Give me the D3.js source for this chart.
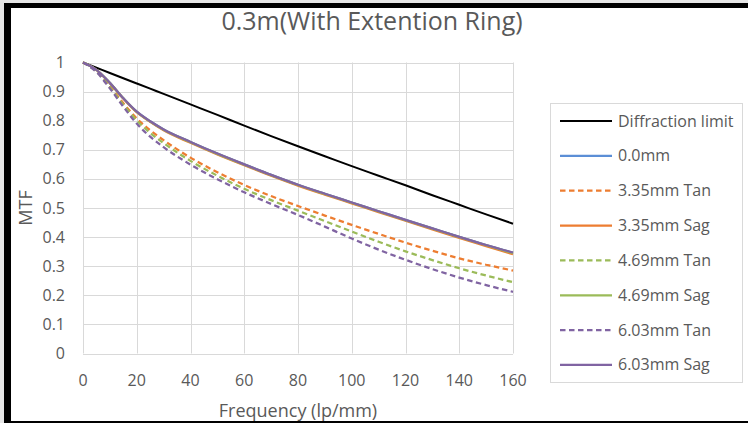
<!DOCTYPE html>
<html>
<head>
<meta charset="utf-8">
<script src="https://cdn.jsdelivr.net/npm/d3@7"></script>
<style>
  html, body { margin: 0; padding: 0; background: #e6e6e6; }
  svg { display: block; }
  text { font-family: "Open Sans", sans-serif; fill: #595959; }
</style>
</head>
<body>
<svg id="chart" width="748" height="423"></svg>
<script>
// frequencies (lp/mm) where the curves were sampled
var freqs = [0, 5, 10, 15, 20, 25, 30, 40, 50, 60, 70, 80, 90, 100, 110, 120, 130, 140, 150, 160];

var diffraction = [1, 0.982, 0.964, 0.946, 0.928, 0.91, 0.892, 0.856, 0.82, 0.783, 0.747, 0.712, 0.678, 0.644, 0.611, 0.578, 0.544, 0.511, 0.478, 0.446];
var sag0    = [1, 0.975, 0.93, 0.877, 0.831, 0.798, 0.77, 0.727, 0.687, 0.65, 0.614, 0.58, 0.549, 0.519, 0.489, 0.459, 0.43, 0.401, 0.373, 0.346];
var tan335  = [1, 0.97, 0.918, 0.86, 0.808, 0.767, 0.733, 0.673, 0.623, 0.579, 0.541, 0.507, 0.474, 0.442, 0.411, 0.381, 0.353, 0.327, 0.305, 0.285];
var sag335  = [1, 0.975, 0.929, 0.876, 0.829, 0.796, 0.767, 0.724, 0.684, 0.647, 0.611, 0.577, 0.546, 0.516, 0.486, 0.456, 0.426, 0.397, 0.369, 0.341];
var tan469  = [1, 0.969, 0.915, 0.855, 0.801, 0.758, 0.723, 0.662, 0.611, 0.566, 0.527, 0.491, 0.455, 0.419, 0.384, 0.351, 0.321, 0.293, 0.268, 0.245];
var sag469  = [1, 0.975, 0.93, 0.877, 0.83, 0.797, 0.769, 0.726, 0.686, 0.649, 0.613, 0.579, 0.548, 0.518, 0.488, 0.458, 0.429, 0.4, 0.372, 0.345];
var tan603  = [1, 0.967, 0.911, 0.848, 0.79, 0.745, 0.709, 0.649, 0.599, 0.554, 0.514, 0.476, 0.436, 0.395, 0.357, 0.322, 0.29, 0.261, 0.235, 0.212];
var sag603  = [1, 0.975, 0.93, 0.877, 0.831, 0.798, 0.77, 0.727, 0.687, 0.65, 0.614, 0.58, 0.549, 0.519, 0.489, 0.459, 0.43, 0.401, 0.373, 0.347];

var seriesNames = ["Diffraction limit", "0.0mm", "3.35mm Tan", "3.35mm Sag", "4.69mm Tan", "4.69mm Sag", "6.03mm Tan", "6.03mm Sag"];
var seriesValues = [diffraction, sag0, tan335, sag335, tan469, sag469, tan603, sag603];
var seriesColors = ["#000000", "#5b8ed6", "#ed7d31", "#ed7d31", "#9bbb59", "#9bbb59", "#8064a2", "#8064a2"];
var seriesDashed = [false, false, true, false, true, false, true, false];

var xTicks = [0, 20, 40, 60, 80, 100, 120, 140, 160];
var yTicks = [0, 0.1, 0.2, 0.3, 0.4, 0.5, 0.6, 0.7, 0.8, 0.9, 1];

var svg = d3.select("#chart");

// white sheet with the black frame on left / top / bottom
svg.append("rect").attr("x", 4).attr("y", 3).attr("width", 744).attr("height", 420).attr("fill", "#000");
svg.append("rect").attr("x", 11).attr("y", 8).attr("width", 737).attr("height", 413).attr("fill", "#fff");

var x = d3.scaleLinear().domain([0, 160]).range([83, 513]);
var y = d3.scaleLinear().domain([0, 1]).range([353.5, 62.5]);

// gridlines
svg.append("g")
  .selectAll("line.h")
  .data(yTicks)
  .enter().append("line")
  .attr("x1", x(0)).attr("x2", x(160))
  .attr("y1", d => Math.round(y(d)) + 0.5).attr("y2", d => Math.round(y(d)) + 0.5)
  .attr("stroke", "#d9d9d9").attr("stroke-width", 1);
svg.append("g")
  .selectAll("line.v")
  .data(xTicks)
  .enter().append("line")
  .attr("x1", d => Math.round(x(d)) + 0.5).attr("x2", d => Math.round(x(d)) + 0.5)
  .attr("y1", y(1)).attr("y2", y(0))
  .attr("stroke", "#d9d9d9").attr("stroke-width", 1);

// tick labels
svg.append("g")
  .selectAll("text")
  .data(yTicks)
  .enter().append("text")
  .attr("x", 65).attr("y", d => y(d) + 5.5)
  .attr("text-anchor", "end")
  .style("font-size", "16px")
  .text(d => d3.format("")(+d.toFixed(1)));
svg.append("g")
  .selectAll("text")
  .data(xTicks)
  .enter().append("text")
  .attr("x", d => x(d)).attr("y", 386)
  .attr("text-anchor", "middle")
  .style("font-size", "16px")
  .text(d => d);

// axis titles
svg.append("text")
  .attr("transform", "translate(32," + (y(0.5)) + ") rotate(-90)")
  .attr("text-anchor", "middle")
  .style("font-size", "18px")
  .text("MTF");
svg.append("text")
  .attr("x", 298).attr("y", 417)
  .attr("text-anchor", "middle")
  .style("font-size", "18px")
  .text("Frequency (lp/mm)");

// chart title
svg.append("text")
  .attr("x", 372).attr("y", 30)
  .attr("text-anchor", "middle")
  .style("font-size", "25px")
  .text("0.3m(With Extention Ring)");

// curves
var line = d3.line()
  .x((d, i) => x(freqs[i]))
  .y(d => y(d))
  .curve(d3.curveMonotoneX);

svg.append("g")
  .selectAll("path")
  .data(seriesValues)
  .enter().append("path")
  .attr("d", line)
  .attr("fill", "none")
  .attr("stroke", (d, i) => seriesColors[i])
  .attr("stroke-width", (d, i) => i === 0 ? 2 : 2.25)
  .attr("stroke-dasharray", (d, i) => seriesDashed[i] ? "5.5,3.5" : null);

// legend
var legend = svg.append("g");
legend.append("rect")
  .attr("x", 550.5).attr("y", 103.5).attr("width", 192).attr("height", 279)
  .attr("fill", "#fff").attr("stroke", "#d9d9d9");
var rows = legend.selectAll("g")
  .data(seriesNames)
  .enter().append("g")
  .attr("transform", (d, i) => "translate(0," + (121 + i * 34.85) + ")");
rows.append("line")
  .attr("x1", 560).attr("x2", 612)
  .attr("stroke", (d, i) => seriesColors[i])
  .attr("stroke-width", (d, i) => i === 0 ? 2 : 2.25)
  .attr("stroke-dasharray", (d, i) => seriesDashed[i] ? "5.5,3.5" : null);
rows.append("text")
  .attr("x", 618).attr("y", 5.5)
  .style("font-size", "16px")
  .text(d => d);
</script>
</body>
</html>
